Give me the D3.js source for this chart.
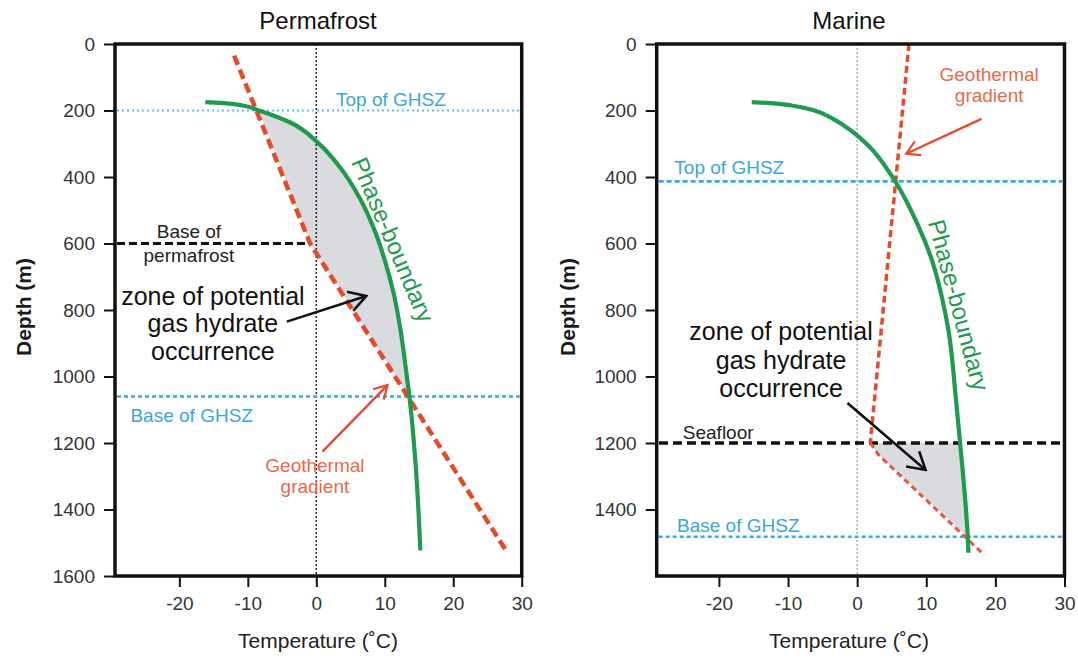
<!DOCTYPE html>
<html><head><meta charset="utf-8">
<script src="https://cdn.jsdelivr.net/npm/d3@7"></script>
<style>
body{margin:0;background:#fff;}
text{font-family:"Liberation Sans",Arial,Helvetica,sans-serif;}
</style>
</head><body>
<svg id="c" width="1078" height="660"></svg>
<script>
// ---------------- DATA ----------------
const tempTicks = [-20, -10, 0, 10, 20, 30];
const depthTicksPermafrost = [0, 200, 400, 600, 800, 1000, 1200, 1400, 1600];
const depthTicksMarine = [0, 200, 400, 600, 800, 1000, 1200, 1400];

// [temperature °C, depth m]
const permafrostPhase = [[-16.2,175],[-13.5,178],[-10.8,185],[-8.4,200],[-3.8,236],[0.3,298],[3.4,369],[6.5,469],[8.6,565],[10.0,650],[11.3,750],[12.3,860],[13.1,980],[13.6,1060],[14.5,1263],[15.2,1523]];
const permafrostGradient = [[-12,35],[-0.9,600],[27.7,1523]];
const marinePhase = [[-15.25,175],[-12.5,178],[-9.5,185],[-6.2,200],[-3.5,225],[-0.9,260],[1.6,305],[5.5,413],[8.8,545],[10.9,655],[12.3,765],[13.2,860],[14.3,1070],[14.9,1200],[16,1482],[16.1,1530]];
const marineGradient = [[7.5,0],[1.9,1200],[3.1,1236],[18.4,1537]];

const permafrostTopGHSZ = 200, permafrostBaseGHSZ = 1060, basePermafrost = 600;
const marineTopGHSZ = 413, marineBaseGHSZ = 1482, seafloor = 1200;

const titles = ["Permafrost", "Marine"];
const xTitle = "Temperature (˚C)";
const yTitle = "Depth (m)";

// ---------------- LAYOUT ----------------
const svg = d3.select("#c");
const GREEN = "#1f9a4f", RED = "#e64a2c", CYAN = "#35ade2", LABRED = "#e8694a", LABCYAN = "#3aa6dc", FILL = "#d9dbde";
const defs = svg.append("defs");
function marker(id, color, len, half, w) {
  defs.append("marker").attr("id", id).attr("markerUnits", "userSpaceOnUse")
    .attr("viewBox", `${-len-2} ${-half-2} ${len+4} ${2*half+4}`)
    .attr("markerWidth", len+4).attr("markerHeight", 2*half+4)
    .attr("refX", 0).attr("refY", 0).attr("orient", "auto")
    .append("path").attr("d", `M${-len},${-half}L0,0L${-len},${half}`)
    .attr("fill", "none").attr("stroke", color).attr("stroke-width", w).attr("stroke-linejoin", "miter");
}
marker("ahBlack", "#111", 17, 10, 2.6);
marker("ahRed", RED, 13, 7.5, 2.2);

const y = d3.scaleLinear().domain([0, 1600]).range([44, 576]);
const fmt = d => String(d);

function drawPanel(o) {
  const x = d3.scaleLinear().domain(o.xDomain).range(o.xRange);
  const g = svg.append("g");
  const phaseLine = d3.line().x(d => x(d[0])).y(d => y(d[1])).curve(d3.curveMonotoneY);
  const straight = d3.line().x(d => x(d[0])).y(d => y(d[1]));

  // zone fill
  const ph = o.phase.filter(d => d[1] >= o.zoneTop && d[1] <= o.zoneBottom);
  const gr = o.gradient.filter(d => d[1] >= o.zoneTop && d[1] <= o.zoneBottom).reverse();
  g.append("path").attr("d", phaseLine(ph) + gr.map(p => `L${x(p[0])},${y(p[1])}`).join("") + "Z")
    .attr("fill", FILL).attr("stroke", "none");

  // zero line
  g.append("line").attr("x1", x(0)).attr("x2", x(0)).attr("y1", y(0)).attr("y2", y(1600))
    .attr("stroke", o.zeroColor).attr("stroke-width", o.zeroWidth).attr("stroke-dasharray", "2,2");

  const [xl, xr] = o.xRange;
  // GHSZ lines
  g.append("line").attr("x1", xl + 2).attr("x2", xr - 2).attr("y1", y(o.top)).attr("y2", y(o.top))
    .attr("stroke", o.topColor).attr("stroke-width", o.topWidth).attr("stroke-dasharray", o.topDash);
  g.append("line").attr("x1", xl + 2).attr("x2", xr - 2).attr("y1", y(o.base)).attr("y2", y(o.base))
    .attr("stroke", CYAN).attr("stroke-width", 2.4).attr("stroke-dasharray", "4,3");
  o.extra(g, x, straight, phaseLine);

  // phase boundary
  g.append("path").attr("d", phaseLine(o.phase)).attr("fill", "none")
    .attr("stroke", GREEN).attr("stroke-width", 4.2);

  // frame
  g.append("rect").attr("x", xl).attr("y", y(0)).attr("width", xr - xl).attr("height", y(1600) - y(0))
    .attr("fill", "none").attr("stroke", "#111").attr("stroke-width", 3.5);

  // axes
  const ay = g.append("g").attr("transform", `translate(${xl},0)`)
    .call(d3.axisLeft(y).tickValues(o.depthTicks).tickSize(11).tickPadding(9).tickFormat(fmt));
  const ax = g.append("g").attr("transform", `translate(0,${y(1600)})`)
    .call(d3.axisBottom(x).tickValues(tempTicks).tickSize(11).tickPadding(10).tickFormat(fmt));
  [ay, ax].forEach(a => {
    a.select(".domain").remove();
    a.selectAll(".tick line").attr("stroke", "#111").attr("stroke-width", 2);
    a.selectAll(".tick text").attr("font-size", 19).attr("fill", "#333")
      .attr("font-family", '"Liberation Sans",Arial,sans-serif');
  });

  // titles
  g.append("text").attr("x", o.titleX).attr("y", 29).attr("text-anchor", "middle")
    .attr("font-size", 24).attr("fill", "#111").text(o.title);
  g.append("text").attr("x", o.xTitleX).attr("y", 648).attr("text-anchor", "middle")
    .attr("font-size", 21).attr("fill", "#222").text(xTitle);
  g.append("text").attr("transform", `translate(${o.yTitleX},307) rotate(-90)`).attr("text-anchor", "middle")
    .attr("font-size", 21).attr("fill", "#1a1a1a").attr("font-weight", 600).text(yTitle);

  // labels
  const lab = (T, d, txt, size, color, anchor = "middle") =>
    g.append("text").attr("x", x(T)).attr("y", y(d)).attr("text-anchor", anchor)
      .attr("font-size", size).attr("fill", color).text(txt);
  o.labels(lab, g, x);
}

function arrow(g, x, from, to, color, w, mk) {
  g.append("line").attr("x1", x(from[0])).attr("y1", y(from[1])).attr("x2", x(to[0])).attr("y2", y(to[1]))
    .attr("stroke", color).attr("stroke-width", w).attr("marker-end", `url(#${mk})`);
}
function rotLabel(g, x, T, d, angle, txt) {
  g.append("text").attr("transform", `translate(${x(T)},${y(d)}) rotate(${angle})`)
    .attr("text-anchor", "middle").attr("dominant-baseline", "central")
    .attr("font-size", 24).attr("fill", GREEN).text(txt);
}

// Permafrost panel
drawPanel({
  title: titles[0], titleX: 318, xTitleX: 318, yTitleX: 31,
  xDomain: [-29.4, 30], xRange: [115, 521.7],
  depthTicks: depthTicksPermafrost,
  phase: permafrostPhase, gradient: permafrostGradient,
  zoneTop: permafrostTopGHSZ, zoneBottom: permafrostBaseGHSZ,
  top: permafrostTopGHSZ, base: permafrostBaseGHSZ,
  topColor: "#62bde6", topWidth: 2, topDash: "2,3",
  zeroColor: "#222", zeroWidth: 1.5,
  extra: (g, x, straight) => {
    g.append("line").attr("x1", 117).attr("x2", x(permafrostGradient[1][0])).attr("y1", y(basePermafrost)).attr("y2", y(basePermafrost))
      .attr("stroke", "#111").attr("stroke-width", 3).attr("stroke-dasharray", "8,4");
    g.append("path").attr("d", straight(permafrostGradient)).attr("fill", "none")
      .attr("stroke", RED).attr("stroke-width", 4.5).attr("stroke-dasharray", "10,5");
  },
  labels: (lab, g, x) => {
    lab(10.9, 186, "Top of GHSZ", 19, LABCYAN);
    lab(-18.6, 583, "Base of", 19, "#222");
    lab(-18.6, 656, "permafrost", 19, "#222");
    lab(-15.1, 785, "zone of potential", 25, "#111");
    lab(-15.1, 866, "gas hydrate", 25, "#111");
    lab(-15.1, 949, "occurrence", 25, "#111");
    lab(-18.2, 1137, "Base of GHSZ", 19, LABCYAN);
    lab(-0.2, 1287, "Geothermal", 19, LABRED);
    lab(-0.2, 1350, "gradient", 19, LABRED);
    rotLabel(g, x, 11.2, 589, 67, "Phase-boundary");
    arrow(g, x, [-4.3, 835], [7.3, 758], "#111", 2.6, "ahBlack");
    arrow(g, x, [0.9, 1226], [10.4, 1026], RED, 2.4, "ahRed");
  }
});

// Marine panel
drawPanel({
  title: titles[1], titleX: 849, xTitleX: 849, yTitleX: 575,
  xDomain: [-29, 30], xRange: [656.7, 1064.5],
  depthTicks: depthTicksMarine,
  phase: marinePhase, gradient: marineGradient,
  zoneTop: seafloor, zoneBottom: marineBaseGHSZ,
  top: marineTopGHSZ, base: marineBaseGHSZ,
  topColor: CYAN, topWidth: 2.8, topDash: "5,3",
  zeroColor: "#999", zeroWidth: 1.2,
  extra: (g, x, straight) => {
    g.append("line").attr("x1", 659).attr("x2", 1062).attr("y1", y(seafloor)).attr("y2", y(seafloor))
      .attr("stroke", "#111").attr("stroke-width", 3.5).attr("stroke-dasharray", "9,5");
    g.append("path").attr("d", straight(marineGradient.filter(d => d[1] <= seafloor))).attr("fill", "none")
      .attr("stroke", RED).attr("stroke-width", 3.5).attr("stroke-dasharray", "7,4");
    g.append("path").attr("d", straight(marineGradient.filter(d => d[1] >= seafloor))).attr("fill", "none")
      .attr("stroke", "#e8583c").attr("stroke-width", 3).attr("stroke-dasharray", "6,4");
  },
  labels: (lab, g, x) => {
    lab(19.1, 111, "Geothermal", 19, LABRED);
    lab(19.1, 174, "gradient", 19, LABRED);
    lab(-18.5, 391, "Top of GHSZ", 19, LABCYAN);
    lab(-11, 891, "zone of potential", 25, "#111");
    lab(-11, 977, "gas hydrate", 25, "#111");
    lab(-11, 1062, "occurrence", 25, "#111");
    lab(-20.1, 1188, "Seafloor", 19, "#222");
    lab(-17.2, 1469, "Base of GHSZ", 19, LABCYAN);
    rotLabel(g, x, 14.7, 785, 75, "Phase-boundary");
    arrow(g, x, [18.0, 225], [7.1, 330], RED, 2.4, "ahRed");
    arrow(g, x, [-1.4, 1080], [9.9, 1281], "#111", 2.6, "ahBlack");
  }
});
</script>
</body></html>
